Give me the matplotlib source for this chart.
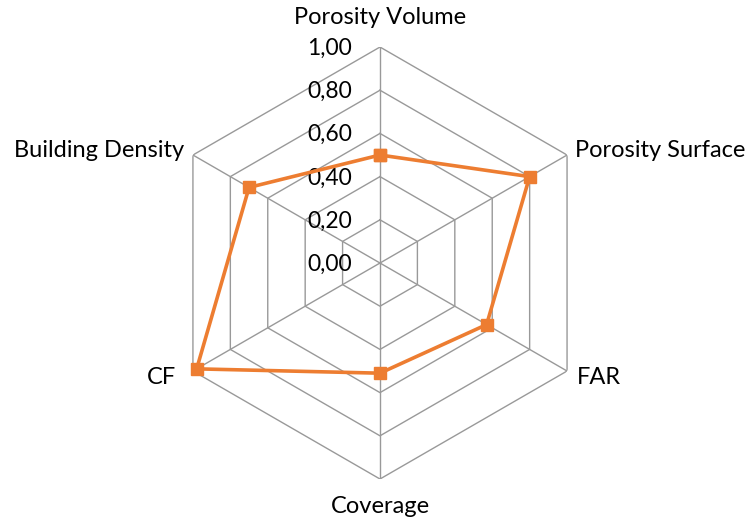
import numpy as np
import matplotlib
matplotlib.use("Agg")
import matplotlib.pyplot as plt

categories = ["Porosity Volume", "Porosity Surface", "FAR", "Coverage", "CF", "Building Density"]
values = [0.50, 0.80, 0.57, 0.51, 0.98, 0.70]
ring_levels = [0.0, 0.2, 0.4, 0.6, 0.8, 1.0]
ring_labels = ["0,00", "0,20", "0,40", "0,60", "0,80", "1,00"]

ORANGE = "#ED7D31"
GRID = "#999999"
plt.rcParams["font.family"] = ["Lato", "DejaVu Sans"]

fig = plt.figure(figsize=(7.55, 5.23), dpi=100)
ax = fig.add_axes([0.2172, 0.0841, 0.5722, 0.826], projection="polar")
ax.set_theta_offset(np.pi / 2)
ax.set_theta_direction(-1)
ax.set_ylim(0, 1)
ax.grid(False)
ax.spines["polar"].set_visible(False)
ax.set_xticks([])
ax.set_yticks([])
ax.patch.set_visible(False)

n = len(categories)
angles = np.arange(n) * 2 * np.pi / n
closed = np.append(angles, angles[0])

# hexagonal rings and spokes
for r in ring_levels[1:]:
    ax.plot(closed, [r] * (n + 1), color=GRID, lw=1, zorder=1)
for a in angles:
    ax.plot([a, a], [0, 1], color=GRID, lw=1, zorder=1)

# value labels along the top spoke
for r, lab in zip(ring_levels, ring_labels):
    ax.annotate(lab, xy=(0, r), xytext=(-20, -1), textcoords="offset points",
                ha="right", va="center", fontsize=16.5)

# category labels
offsets = [(0, 21, "center", "center"), (6, 3, "left", "center"),
           (7, -5, "left", "center"), (0, -19.5, "center", "center"),
           (-12, -5, "right", "center"), (-6, 3, "right", "center")]
for a, name, (dx, dy, ha, va) in zip(angles, categories, offsets):
    ax.annotate(name, xy=(a, 1), xytext=(dx, dy), textcoords="offset points",
                ha=ha, va=va, fontsize=17)

ax.plot(closed, values + values[:1], color=ORANGE, lw=2.6, marker="s",
        markersize=8.5, zorder=3, clip_on=False)

fig.savefig("out.png", dpi=100)
